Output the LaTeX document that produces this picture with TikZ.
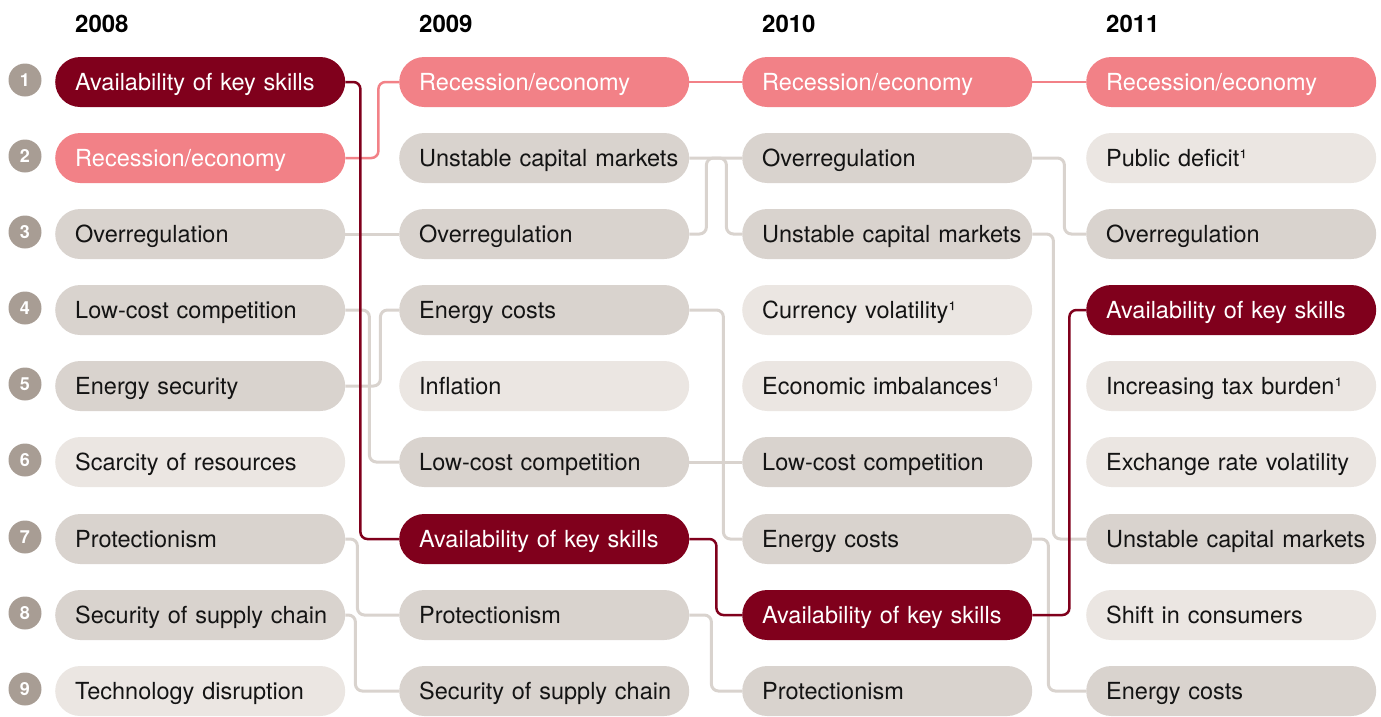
\documentclass[tikz,border=0pt]{standalone}
\usepackage{fontspec}
\setmainfont{TeX Gyre Heros}
\definecolor{keyred}{RGB}{128,0,28}
\definecolor{recpink}{RGB}{242,129,135}
\definecolor{pillgray}{RGB}{217,211,206}
\definecolor{pilllight}{RGB}{235,230,226}
\definecolor{numgray}{RGB}{168,157,148}
\tikzset{
  pill/.style={rectangle, rounded corners=25pt, fill=pillgray, anchor=west,
    minimum height=50pt, text width=290pt, inner xsep=0pt, inner ysep=0pt,
    text height=17pt, text depth=0pt,
    align=left, execute at begin node={\hspace*{20pt}},
    font=\fontsize{23.5}{28}\selectfont, text=black!92},
  newpill/.style={pill, fill=pilllight},
  keypill/.style={pill, fill=keyred, text=white},
  recpill/.style={pill, fill=recpink, text=white},
  num/.style={circle, fill=numgray, minimum size=33pt, inner sep=0pt,
    text=white, font=\fontsize{18}{18}\selectfont\bfseries},
  year/.style={anchor=base west, inner sep=0pt, font=\fontsize{24}{24}\selectfont\bfseries},
  conn/.style={draw=pillgray, line width=3pt, rounded corners=7pt},
  keyconn/.style={conn, draw=keyred, line width=2.5pt},
  recconn/.style={conn, draw=recpink, line width=2.5pt}
}
\begin{document}
\begin{tikzpicture}[x=1pt, y=-1pt]
\useasboundingbox (0,0) rectangle (1381,716);

% years
\node[year] (y08) at (75,32) {2008};
\node[year] (y09) at (419,32) {2009};
\node[year] (y10) at (762,32) {2010};
\node[year] (y11) at (1106,32) {2011};

% ranks
\node[num] (n1) at (25,80) {1};
\node[num] (n2) at (25,156) {2};
\node[num] (n3) at (25,232) {3};
\node[num] (n4) at (25,308) {4};
\node[num] (n5) at (25,384) {5};
\node[num] (n6) at (25,460) {6};
\node[num] (n7) at (25,537) {7};
\node[num] (n8) at (25,613) {8};
\node[num] (n9) at (25,689) {9};

% 2008
\node[keypill] (a1) at (55,82) {Availability of key skills};
\node[recpill] (a2) at (55,158) {Recession/economy};
\node[pill] (a3) at (55,234) {Overregulation};
\node[pill] (a4) at (55,310) {Low-cost competition};
\node[pill] (a5) at (55,386) {Energy security};
\node[newpill] (a6) at (55,462) {Scarcity of resources};
\node[pill] (a7) at (55,539) {Protectionism};
\node[pill] (a8) at (55,615) {Security of supply chain};
\node[newpill] (a9) at (55,691) {Technology disruption};

% 2009
\node[recpill] (b1) at (399,82) {Recession/economy};
\node[pill] (b2) at (399,158) {Unstable capital markets};
\node[pill] (b3) at (399,234) {Overregulation};
\node[pill] (b4) at (399,310) {Energy costs};
\node[newpill] (b5) at (399,386) {Inflation};
\node[pill] (b6) at (399,462) {Low-cost competition};
\node[keypill] (b7) at (399,539) {Availability of key skills};
\node[pill] (b8) at (399,615) {Protectionism};
\node[pill] (b9) at (399,691) {Security of supply chain};

% 2010
\node[recpill] (c1) at (742,82) {Recession/economy};
\node[pill] (c2) at (742,158) {Overregulation};
\node[pill] (c3) at (742,234) {Unstable capital markets};
\node[newpill] (c4) at (742,310) {Currency volatility¹};
\node[newpill] (c5) at (742,386) {Economic imbalances¹};
\node[pill] (c6) at (742,462) {Low-cost competition};
\node[pill] (c7) at (742,539) {Energy costs};
\node[keypill] (c8) at (742,615) {Availability of key skills};
\node[pill] (c9) at (742,691) {Protectionism};

% 2011
\node[recpill] (d1) at (1086,82) {Recession/economy};
\node[newpill] (d2) at (1086,158) {Public deficit¹};
\node[pill] (d3) at (1086,234) {Overregulation};
\node[keypill] (d4) at (1086,310) {Availability of key skills};
\node[newpill] (d5) at (1086,386) {Increasing tax burden¹};
\node[newpill] (d6) at (1086,462) {Exchange rate volatility};
\node[pill] (d7) at (1086,539) {Unstable capital markets};
\node[newpill] (d8) at (1086,615) {Shift in consumers};
\node[pill] (d9) at (1086,691) {Energy costs};

% gray links
\draw[conn] (a3.east) -- (b3.west);
\draw[conn] (a4.east) -- ++(24,0) |- (b6.west);
\draw[conn] (a5.east) -- ++(35,0) |- (b4.west);
\draw[conn] (a7.east) -- ++(12,0) |- (b8.west);
\draw[conn] (a8.east) -- ++(10,0) |- (b9.west);
\draw[conn] (b2.east) -- ++(37,0) |- (c3.west);
\draw[conn] (b3.east) -- ++(17,0) |- (c2.west);
\draw[conn] (b4.east) -- ++(34,0) |- (c7.west);
\draw[conn] (b6.east) -- (c6.west);
\draw[conn] (b8.east) -- ++(22,0) |- (c9.west);
\draw[conn] (c2.east) -- ++(32,0) |- (d3.west);
\draw[conn] (c3.east) -- ++(21,0) |- (d7.west);
\draw[conn] (c7.east) -- ++(16,0) |- (d9.west);

% recession
\draw[recconn] (a2.east) -- ++(33,0) |- (b1.west);
\draw[recconn] (b1.east) -- (c1.west);
\draw[recconn] (c1.east) -- (d1.west);

% key skills
\draw[keyconn] (a1.east) -- ++(15,0) |- (b7.west);
\draw[keyconn] (b7.east) -- ++(27,0) |- (c8.west);
\draw[keyconn] (c8.east) -- ++(37,0) |- (d4.west);
\end{tikzpicture}
\end{document}
